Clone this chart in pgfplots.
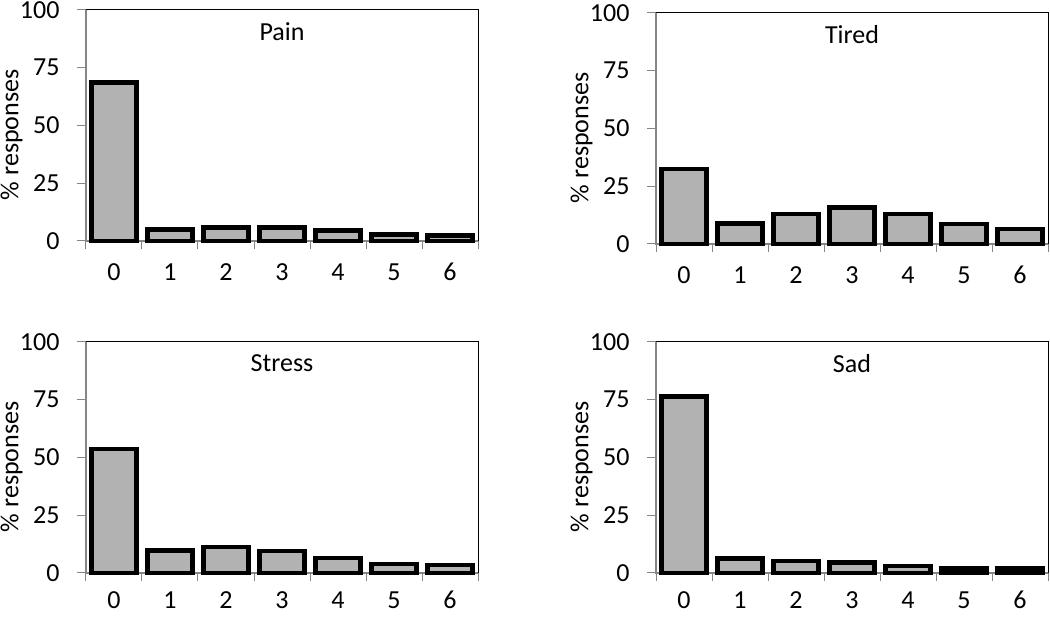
\documentclass[border=0pt]{standalone}
\usepackage{pgfplots}
\pgfplotsset{compat=1.18}
\usepackage{fontspec}
\setmainfont{Carlito}

\definecolor{barfill}{RGB}{178,178,178}
\definecolor{axgray}{RGB}{134,134,134}

\pgfplotsset{
  panel/.style={
    scale only axis, width=392pt, height=231pt,
    anchor=south west,
    xmin=-0.5, xmax=6.5, ymin=0, ymax=100,
    xtick={0,...,6}, ytick={0,25,50,75,100},
    minor xtick={-0.5,0.5,...,6.5},
    tick align=outside, tick pos=left,
    major tick length=9pt, minor tick length=8pt,
    every tick/.style={axgray, line width=1pt},
    major x tick style={draw=none},
    axis line style={draw=none},
    /pgf/number format/assume math mode=true,
    ticklabel style={font=\fontsize{26}{26}\selectfont},
    xticklabel style={yshift=-10pt, text height=17pt, text depth=0pt},
    yticklabel style={xshift=-14pt},
    ylabel={\% responses},
    every axis y label/.style={at={(axis description cs:-0.19,0.46)}, rotate=90, anchor=center,
      font=\fontsize{26}{26}\selectfont},
    every axis title/.style={at={(axis description cs:0.5,1)}, anchor=north, yshift=-9pt,
      font=\fontsize{26}{26}\selectfont},
    clip=false,
  },
  % the bottom row sits at the page edge: lift its tick labels a little
  lower/.style={xticklabel style={yshift=4pt}},
  bars/.style={ybar, bar width=0.8, fill=barfill, draw=black, line width=4.5pt},
}

\newcommand{\frameaxis}{%
  \draw[black, line width=1pt] (rel axis cs:0,1) -- (rel axis cs:1,1) -- (rel axis cs:1,0);
  \draw[axgray, line width=1.2pt] (rel axis cs:0,1) -- (rel axis cs:0,0) -- (rel axis cs:1,0);
}

\begin{document}
\begin{tikzpicture}[x=1pt,y=1pt]
\useasboundingbox (0,0) rectangle (1050,617);

% Pain
\begin{axis}[panel, at={(86pt,376pt)}, title={Pain}]
\frameaxis
\addplot[bars] coordinates {(0,68.6) (1,5.0) (2,5.8) (3,5.8) (4,4.6) (5,2.8) (6,2.4)};
\end{axis}

% Tired
\begin{axis}[panel, at={(656pt,373pt)}, title={Tired}]
\frameaxis
\addplot[bars] coordinates {(0,32.5) (1,8.8) (2,12.9) (3,15.9) (4,12.9) (5,8.6) (6,6.4)};
\end{axis}

% Stress
\begin{axis}[panel, lower, at={(86pt,44pt)}, title={Stress}]
\frameaxis
\addplot[bars] coordinates {(0,53.7) (1,9.8) (2,11.2) (3,9.6) (4,6.5) (5,3.9) (6,3.5)};
\end{axis}

% Sad
\begin{axis}[panel, lower, at={(656pt,44pt)}, title={Sad}]
\frameaxis
\addplot[bars] coordinates {(0,76.4) (1,6.2) (2,5.3) (3,4.5) (4,3.0) (5,1.9) (6,1.9)};
\end{axis}
\end{tikzpicture}
\end{document}
